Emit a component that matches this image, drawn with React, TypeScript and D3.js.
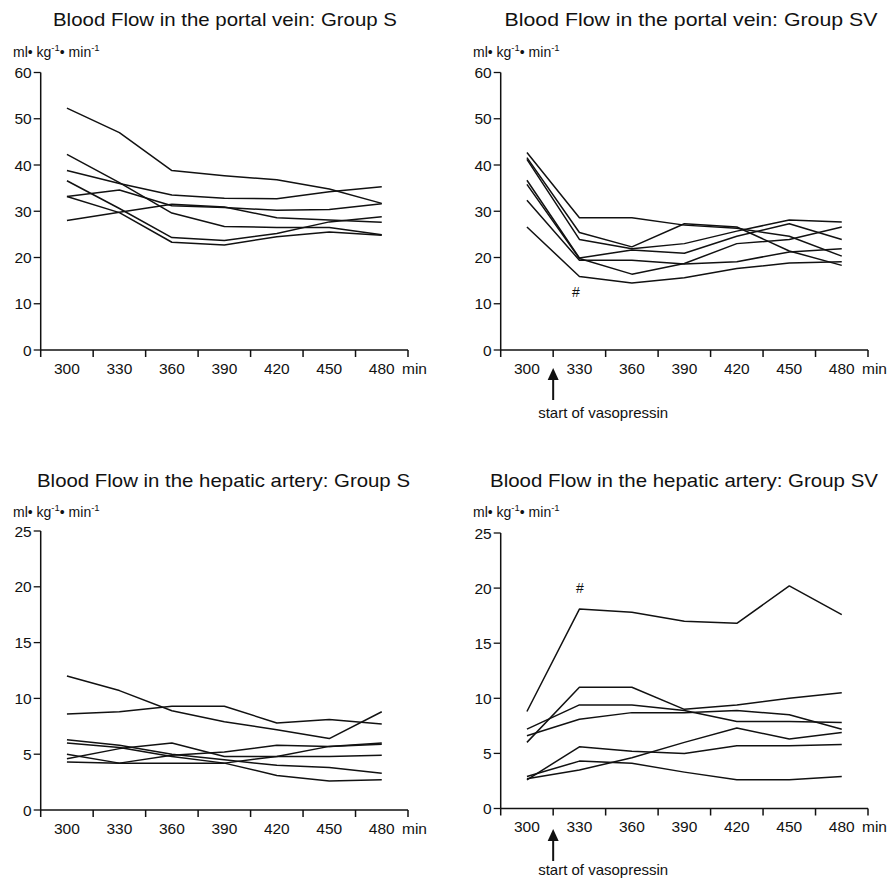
import React from "react";
import * as d3 from "d3";

// ---- data ----
const categories = ["300", "330", "360", "390", "420", "450", "480"];

const portalS: number[][] = [
  [52.3, 47.0, 38.8, 37.7, 36.8, 34.8, 31.7],
  [42.3, 36.2, 29.6, 26.7, 26.5, 26.5, 24.9],
  [38.8, 36.0, 33.5, 32.8, 32.7, 34.2, 35.3],
  [36.6, 30.6, 24.3, 23.7, 25.2, 27.7, 28.8],
  [33.2, 29.7, 23.3, 22.7, 24.5, 25.5, 24.8],
  [33.2, 34.6, 31.2, 30.8, 30.2, 30.4, 31.6],
  [28.0, 29.8, 31.5, 30.9, 28.6, 28.1, 27.6],
];

const portalSV: number[][] = [
  [42.7, 28.6, 28.6, 27.0, 26.3, 24.6, 20.3],
  [41.6, 25.4, 22.3, 27.3, 26.6, 21.4, 18.3],
  [41.2, 23.9, 21.9, 23.0, 25.7, 28.1, 27.7],
  [36.7, 19.9, 21.6, 20.9, 24.6, 27.3, 23.9],
  [35.8, 19.8, 16.4, 18.7, 23.0, 23.9, 26.6],
  [32.4, 19.4, 19.4, 18.6, 19.1, 21.2, 21.9],
  [26.6, 15.9, 14.5, 15.6, 17.6, 18.8, 19.1],
];

const hepaticS: number[][] = [
  [12.0, 10.7, 8.9, 7.9, 7.2, 6.4, 8.8],
  [8.6, 8.8, 9.3, 9.3, 7.8, 8.1, 7.7],
  [6.3, 5.8, 5.0, 4.5, 4.0, 3.8, 3.3],
  [6.0, 5.6, 4.8, 4.2, 3.1, 2.6, 2.7],
  [5.0, 4.2, 4.9, 5.2, 5.8, 5.7, 6.0],
  [4.6, 5.5, 6.0, 4.8, 4.8, 4.8, 4.9],
  [4.3, 4.2, 4.2, 4.2, 4.8, 5.7, 5.9],
];

const hepaticSV: number[][] = [
  [8.8, 18.1, 17.8, 17.0, 16.8, 20.2, 17.6],
  [6.0, 11.0, 11.0, 9.0, 9.4, 10.0, 10.5],
  [7.2, 9.4, 9.4, 8.9, 7.9, 7.9, 7.8],
  [6.6, 8.1, 8.7, 8.7, 8.9, 8.5, 7.2],
  [2.7, 3.5, 4.6, 6.0, 7.3, 6.3, 6.9],
  [2.6, 5.6, 5.2, 5.0, 5.7, 5.7, 5.8],
  [2.9, 4.3, 4.1, 3.3, 2.6, 2.6, 2.9],
];

const portalTicks = [0, 10, 20, 30, 40, 50, 60];
const hepaticTicks = [0, 5, 10, 15, 20, 25];

const titles = [
  "Blood Flow in the portal vein: Group S",
  "Blood Flow in the portal vein: Group SV",
  "Blood Flow in the hepatic artery: Group S",
  "Blood Flow in the hepatic artery: Group SV",
];

const FONT = "'Liberation Sans', Arial, Helvetica, sans-serif";

type PanelProps = {
  title: string;
  titleX: number;
  titleY: number;
  titleW: number;
  unitX: number;
  unitY: number;
  x0: number;
  x1: number;
  yTop: number;
  yBottom: number;
  ticks: number[];
  data: number[][];
  hash?: { x: number; y: number };
  arrow?: { tip: number; textY: number };
};

function Panel(p: PanelProps) {
  const x = d3.scaleBand<string>().domain(categories).range([p.x0, p.x1]).padding(0);
  const yMax = p.ticks[p.ticks.length - 1];
  const y = d3.scaleLinear().domain([0, yMax]).range([p.yBottom, p.yTop]);
  const cx = (c: string) => (x(c) as number) + x.bandwidth() / 2;
  const line = d3
    .line<number>()
    .x((_, i) => cx(categories[i]))
    .y((d) => y(d));
  const boundaries = [...categories.map((c) => x(c) as number), p.x1];
  const arrowX = x(categories[1]) as number;
  return (
    <g>
      <text
        x={p.titleX}
        y={p.titleY}
        textAnchor="middle"
        fontSize={19}
        fill="#111"
        textLength={p.titleW}
        lengthAdjust="spacingAndGlyphs"
      >
        {p.title}
      </text>
      <text x={p.unitX} y={p.unitY} fontSize={14} fill="#111">
        ml• kg
        <tspan dy={-6} fontSize={9.5}>-1</tspan>
        <tspan dy={6}>• min</tspan>
        <tspan dy={-6} fontSize={9.5}>-1</tspan>
      </text>
      {/* y axis */}
      <line x1={p.x0} x2={p.x0} y1={y(yMax)} y2={y(0)} stroke="#111" strokeWidth={1.5} />
      {p.ticks.map((t) => (
        <g key={t}>
          <line x1={p.x0 - 7} x2={p.x0} y1={y(t)} y2={y(t)} stroke="#111" strokeWidth={1.3} />
          <text x={p.x0 - 9} y={y(t) + 5.5} textAnchor="end" fontSize={15.5} fill="#111">
            {t}
          </text>
        </g>
      ))}
      {/* x axis */}
      <line x1={p.x0} x2={p.x1} y1={y(0)} y2={y(0)} stroke="#111" strokeWidth={1.5} />
      {boundaries.map((b, i) => (
        <line key={i} x1={b} x2={b} y1={y(0)} y2={y(0) + 7} stroke="#111" strokeWidth={1.5} />
      ))}
      {categories.map((c) => (
        <text key={c} x={cx(c)} y={y(0) + 23.5} textAnchor="middle" fontSize={15.5} fill="#111">
          {c}
        </text>
      ))}
      <text x={p.x1 - 6} y={y(0) + 23.5} fontSize={15.5} fill="#111">
        min
      </text>
      {/* series */}
      {p.data.map((s, i) => (
        <path key={i} d={line(s) || ""} fill="none" stroke="#111" strokeWidth={1.5} strokeLinejoin="round" />
      ))}
      {p.hash && (
        <text x={p.hash.x} y={p.hash.y} textAnchor="middle" fontSize={14} fill="#111">
          #
        </text>
      )}
      {p.arrow && (
        <g>
          <path
            d={`M${arrowX},${p.arrow.tip} L${arrowX - 5.5},${p.arrow.tip + 12} L${arrowX + 5.5},${p.arrow.tip + 12} Z`}
            fill="#111"
          />
          <line x1={arrowX} x2={arrowX} y1={p.arrow.tip + 10} y2={p.arrow.tip + 32} stroke="#111" strokeWidth={2} />
          <text x={arrowX - 15} y={p.arrow.textY} fontSize={15} fill="#111">
            start of vasopressin
          </text>
        </g>
      )}
    </g>
  );
}

export default function App() {
  return (
    <svg
      width={888}
      height={880}
      style={{ position: "absolute", left: 0, top: 0, background: "#fff" }}
      fontFamily={FONT}
    >
      <rect x={0} y={0} width={888} height={880} fill="#fff" />
      <Panel
        title={titles[0]}
        titleX={225}
        titleY={26}
        titleW={344}
        unitX={13}
        unitY={57}
        x0={40.7}
        x1={408}
        yTop={72.5}
        yBottom={350}
        ticks={portalTicks}
        data={portalS}
      />
      <Panel
        title={titles[1]}
        titleX={691}
        titleY={26}
        titleW={373}
        unitX={473}
        unitY={57}
        x0={500.7}
        x1={868}
        yTop={72.5}
        yBottom={350}
        ticks={portalTicks}
        data={portalSV}
        hash={{ x: 576, y: 297 }}
        arrow={{ tip: 368, textY: 418 }}
      />
      <Panel
        title={titles[2]}
        titleX={223.5}
        titleY={487}
        titleW={373}
        unitX={13}
        unitY={517}
        x0={40.7}
        x1={408}
        yTop={531}
        yBottom={810}
        ticks={hepaticTicks}
        data={hepaticS}
      />
      <Panel
        title={titles[3]}
        titleX={684}
        titleY={487}
        titleW={388}
        unitX={473}
        unitY={517}
        x0={500.7}
        x1={868}
        yTop={533}
        yBottom={808.5}
        ticks={hepaticTicks}
        data={hepaticSV}
        hash={{ x: 580, y: 593 }}
        arrow={{ tip: 829, textY: 875 }}
      />
    </svg>
  );
}
